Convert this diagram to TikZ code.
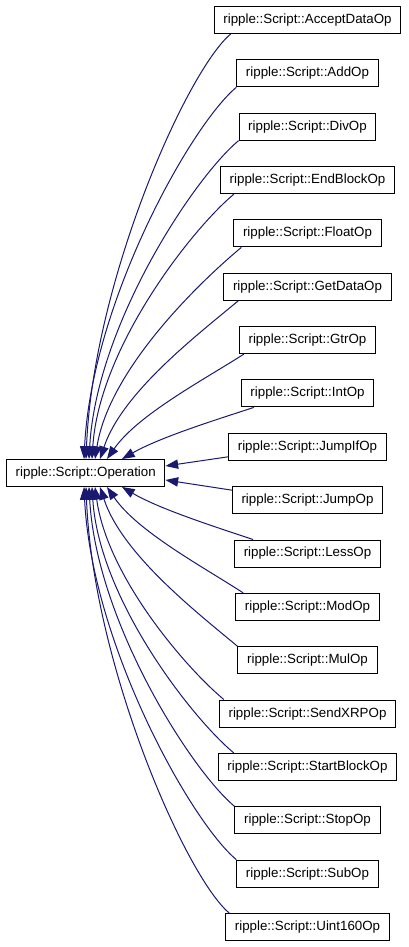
\documentclass[tikz,border=0pt]{standalone}
\usepackage{fontspec}
\setmainfont{Liberation Sans}
\usetikzlibrary{arrows.meta,calc}
\definecolor{edgeblue}{RGB}{25,25,112}
\newcommand\fanedge[2]{%
  \draw[edge] let \p1=(#1), \p2=(#2), \n1={\x1-\x2}, \n2={\y2-\y1},
    \n3={min(0.25*\n1,0.25*abs(\n2))},
    \n4={0.05+0.3*max(0,1-abs(\n2)/187.5)} in
    (\p1) .. controls ({\x1-0.3*\n1},{\y1+sign(\n2)*\n3}) and ({\x2+\n4*\n1},{\y2-0.42*\n2}) .. (\p2);}
\begin{document}
\begin{tikzpicture}[x=0.75pt,y=-0.75pt,
  box/.style={draw=black, line width=0.75pt, inner xsep=6.9pt, inner ysep=0pt,
    minimum height=20.25pt, font=\fontsize{10}{12}\selectfont, fill=white},
  edge/.style={draw=edgeblue, line width=0.75pt, -{Triangle[length=9.5pt,width=7pt]}, edgeblue}]
\useasboundingbox (0,0) rectangle (408,947);
\node[box, anchor=west] (op) at (6,473) {ripple::Script::Operation};
\node[box] (n0) at (307.5,20) {ripple::Script::AcceptDataOp};
\node[box] (n1) at (307.5,73.35) {ripple::Script::AddOp};
\node[box] (n2) at (307.5,126.7) {ripple::Script::DivOp};
\node[box] (n3) at (307.5,180.05) {ripple::Script::EndBlockOp};
\node[box] (n4) at (307.5,233.4) {ripple::Script::FloatOp};
\node[box] (n5) at (307.5,286.75) {ripple::Script::GetDataOp};
\node[box] (n6) at (307.5,340.1) {ripple::Script::GtrOp};
\node[box] (n7) at (307.5,393.45) {ripple::Script::IntOp};
\node[box] (n8) at (307.5,446.8) {ripple::Script::JumpIfOp};
\node[box] (n9) at (307.5,500.15) {ripple::Script::JumpOp};
\node[box] (n10) at (307.5,553.5) {ripple::Script::LessOp};
\node[box] (n11) at (307.5,606.85) {ripple::Script::ModOp};
\node[box] (n12) at (307.5,660.2) {ripple::Script::MulOp};
\node[box] (n13) at (307.5,713.55) {ripple::Script::SendXRPOp};
\node[box] (n14) at (307.5,766.9) {ripple::Script::StartBlockOp};
\node[box] (n15) at (307.5,820.25) {ripple::Script::StopOp};
\node[box] (n16) at (307.5,873.6) {ripple::Script::SubOp};
\node[box] (n17) at (307.5,926.95) {ripple::Script::Uint160Op};
% upper fan
\fanedge{$(n0.south west)+(17,0)$}{$(op.north west)+(80,0)$}
\fanedge{$(n1.south west)+(0,0)$}{$(op.north west)+(78,0)$}
\fanedge{$(n2.south west)+(0,0)$}{$(op.north west)+(83,0)$}
\fanedge{$(n3.south west)+(14,0)$}{$(op.north west)+(86,0)$}
\fanedge{$(n4.south west)+(8,0)$}{$(op.north west)+(89,0)$}
\fanedge{$(n5.south west)+(15,0)$}{$(op.north west)+(94,0)$}
\fanedge{$(n6.south west)+(5,0)$}{$(op.north west)+(101,0)$}
\fanedge{$(n7.south west)+(13,0)$}{$(op.north west)+(116,0)$}
% side
\draw[edge] ($(n8.south west)+(0,-4)$) -- ($(op.east)+(0,-7)$);
\draw[edge] ($(n9.north west)+(0,4)$) -- ($(op.east)+(0,7)$);
% lower fan
\fanedge{$(n10.north west)+(19,0)$}{$(op.south west)+(116,0)$}
\fanedge{$(n11.north west)+(8,0)$}{$(op.south west)+(101,0)$}
\fanedge{$(n12.north west)+(0,0)$}{$(op.south west)+(94,0)$}
\fanedge{$(n13.north west)+(5,0)$}{$(op.south west)+(89,0)$}
\fanedge{$(n14.north west)+(16,0)$}{$(op.south west)+(86,0)$}
\fanedge{$(n15.north west)+(0,0)$}{$(op.south west)+(83,0)$}
\fanedge{$(n16.north west)+(0,0)$}{$(op.south west)+(78,0)$}
\fanedge{$(n17.north west)+(4,0)$}{$(op.south west)+(80,0)$}
\end{tikzpicture}
\end{document}
